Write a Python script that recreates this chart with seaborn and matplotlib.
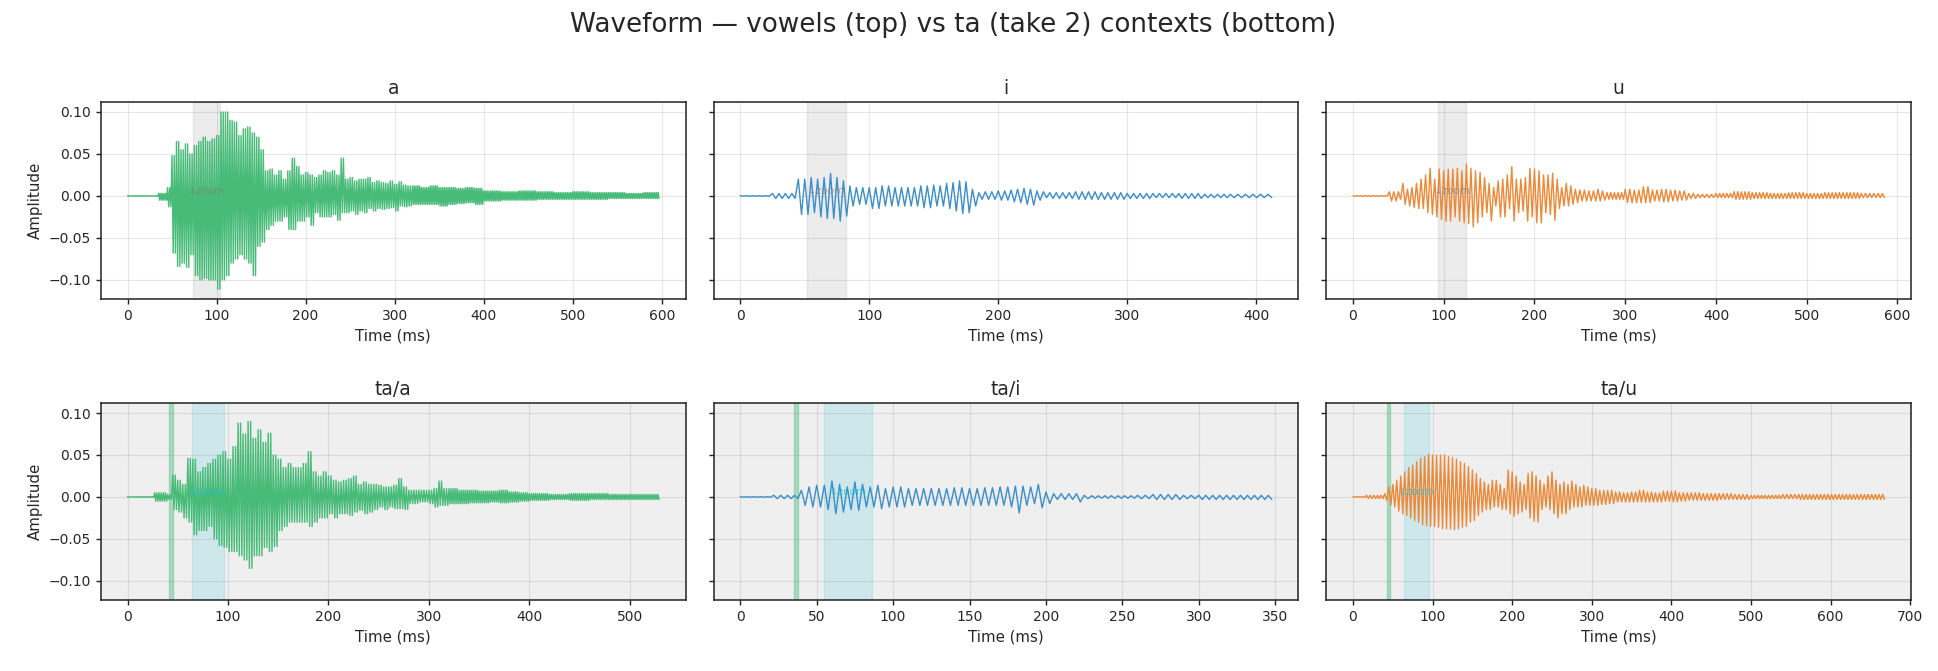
import numpy as np
import pandas as pd
import seaborn as sns
import matplotlib.pyplot as plt
from matplotlib.ticker import MultipleLocator

# envelope: (segment start ms, peak, trough)
ENV_A = [(0, .0003, -.0003), (35, .003, -.005), (45, .010, -.013), (50, .048, -.068), (55, .065, -.084),
         (60, .055, -.080), (65, .062, -.085), (70, .050, -.070), (75, .060, -.095), (80, .065, -.100),
         (85, .070, -.098), (90, .065, -.100), (95, .068, -.100), (100, .072, -.111), (105, .100, -.100),
         (110, .100, -.095), (115, .090, -.080), (120, .088, -.075), (125, .072, -.070), (130, .080, -.075),
         (135, .082, -.080), (140, .075, -.095), (145, .070, -.060), (150, .055, -.055), (155, .030, -.040),
         (160, .032, -.035), (165, .025, -.030), (170, .030, -.030), (175, .020, -.025), (180, .030, -.040),
         (185, .045, -.040), (190, .035, -.030), (195, .025, -.030), (200, .028, -.025), (205, .025, -.035),
         (210, .022, -.020), (215, .025, -.025), (220, .030, -.025), (225, .028, -.025), (230, .030, -.022),
         (235, .025, -.029), (240, .045, -.020), (245, .020, -.020), (250, .022, -.018), (255, .018, -.022),
         (260, .020, -.018), (265, .020, -.020), (270, .022, -.015), (275, .016, -.018), (280, .018, -.015),
         (285, .016, -.016), (290, .015, -.015), (295, .018, -.014), (300, .014, -.018), (305, .017, -.012),
         (310, .013, -.013), (315, .012, -.012), (320, .012, -.010), (330, .010, -.010), (340, .012, -.010),
         (350, .010, -.012), (360, .010, -.010), (370, .009, -.009), (380, .010, -.008), (390, .009, -.010),
         (400, .006, -.006), (420, .005, -.005), (440, .006, -.005), (460, .005, -.004), (480, .004, -.004),
         (500, .005, -.004), (520, .004, -.004), (540, .004, -.003), (560, .003, -.003), (580, .004, -.003)]
ENV_I = [(0, .0003, -.0003), (25, .003, -.003), (45, .020, -.022), (50, .020, -.022), (55, .022, -.020),
         (60, .020, -.025), (65, .022, -.027), (70, .027, -.027), (75, .022, -.030), (80, .018, -.024),
         (85, .012, -.012), (90, .010, -.010), (95, .010, -.010), (100, .010, -.015), (110, .012, -.012),
         (120, .010, -.012), (130, .010, -.012), (140, .012, -.014), (150, .013, -.012), (155, .012, -.012),
         (160, .015, -.015), (165, .016, -.018), (170, .018, -.021), (175, .017, -.020), (180, .008, -.012),
         (185, .004, -.004), (190, .005, -.004), (200, .006, -.005), (210, .007, -.007), (215, .008, -.008),
         (220, .009, -.010), (225, .008, -.011), (230, .006, -.005), (235, .005, -.002), (240, .004, -.003),
         (260, .005, -.004), (280, .004, -.004), (300, .003, -.003), (320, .003, -.002), (340, .003, -.003),
         (360, .002, -.002), (380, .002, -.002)]
ENV_U = [(0, .0003, -.0003), (40, .005, -.006), (50, .005, -.004), (55, .015, -.010), (60, .008, -.012),
         (65, .010, -.014), (70, .015, -.015), (75, .020, -.015), (80, .025, -.020), (85, .033, -.022),
         (90, .020, -.025), (95, .032, -.028), (100, .030, -.030), (105, .032, -.030), (110, .032, -.025),
         (115, .033, -.030), (120, .030, -.032), (125, .038, -.033), (130, .033, -.037), (135, .030, -.032),
         (140, .028, -.025), (145, .022, -.020), (150, .015, -.030), (155, .010, -.012), (160, .018, -.025),
         (165, .020, -.025), (170, .025, -.015), (175, .035, -.030), (180, .020, -.020), (185, .020, -.018),
         (190, .022, -.030), (195, .033, -.025), (200, .032, -.032), (205, .030, -.032), (210, .025, -.020),
         (215, .025, -.022), (220, .027, -.029), (225, .020, -.015), (230, .010, -.012), (235, .015, -.012),
         (240, .012, -.010), (245, .008, -.008), (250, .007, -.006), (260, .006, -.006), (270, .008, -.006),
         (275, .006, -.005), (280, .004, -.004), (300, .008, -.008), (310, .007, -.008), (320, .011, -.008),
         (330, .007, -.006), (340, .008, -.007), (350, .007, -.006), (360, .006, -.005), (370, .003, -.003),
         (380, .002, -.002), (390, .002, -.002), (400, .003, -.002), (420, .005, -.004), (440, .004, -.003),
         (460, .003, -.003), (480, .004, -.003), (500, .003, -.003), (520, .004, -.003), (540, .004, -.003),
         (560, .003, -.002)]
ENV_TA_A = [(0, .0003, -.0003), (27, .005, -.005), (40, .003, -.003), (45, .026, -.015), (50, .020, -.018),
            (55, .015, -.025), (60, .046, -.030), (65, .045, -.045), (70, .030, -.040), (75, .035, -.040),
            (80, .040, -.035), (85, .045, -.050), (90, .050, -.058), (95, .054, -.060), (100, .045, -.065),
            (105, .060, -.065), (110, .088, -.070), (115, .075, -.075), (120, .090, -.085), (125, .070, -.070),
            (130, .080, -.070), (135, .065, -.060), (140, .076, -.065), (145, .050, -.059), (150, .045, -.040),
            (155, .035, -.035), (160, .040, -.030), (165, .035, -.030), (170, .035, -.030), (175, .040, -.030),
            (180, .054, -.035), (185, .030, -.030), (190, .025, -.025), (195, .030, -.025), (200, .025, -.020),
            (205, .020, -.025), (210, .018, -.020), (215, .020, -.020), (220, .022, -.022), (225, .025, -.018),
            (230, .015, -.016), (235, .018, -.020), (240, .015, -.018), (245, .015, -.015), (250, .014, -.012),
            (255, .012, -.015), (260, .012, -.012), (265, .014, -.014), (270, .022, -.014), (275, .012, -.015),
            (280, .008, -.008), (285, .008, -.008), (290, .008, -.006), (295, .008, -.006), (300, .008, -.008),
            (305, .010, -.012), (310, .019, -.010), (315, .010, -.010), (320, .010, -.008), (330, .008, -.008),
            (340, .008, -.007), (350, .007, -.007), (360, .007, -.006), (370, .008, -.007), (380, .006, -.006),
            (390, .005, -.005), (400, .004, -.004), (420, .003, -.003), (440, .004, -.004), (460, .004, -.003),
            (480, .003, -.003), (500, .003, -.003)]
ENV_TA_I = [(0, .0003, -.0003), (22, .002, -.002), (40, .008, -.010), (45, .012, -.012), (50, .014, -.012),
            (55, .014, -.015), (60, .019, -.020), (65, .015, -.018), (70, .012, -.015), (75, .018, -.016),
            (80, .015, -.012), (85, .012, -.012), (90, .014, -.014), (95, .010, -.012), (100, .012, -.012),
            (110, .010, -.010), (120, .010, -.010), (130, .010, -.010), (140, .011, -.010), (150, .010, -.010),
            (160, .011, -.010), (170, .012, -.010), (175, .012, -.012), (180, .013, -.019), (185, .013, -.010),
            (190, .012, -.008), (195, .015, -.013), (200, .006, -.008), (205, .004, -.003), (220, .004, -.006),
            (225, .002, -.002), (230, .0015, -.0015), (260, .002, -.002), (270, .003, -.003), (290, .002, -.002),
            (300, .002, -.003)]
ENV_TA_U = [(0, .0003, -.0003), (17, .002, -.002), (40, .004, -.004), (45, .012, -.010), (50, .015, -.012),
            (55, .020, -.017), (60, .025, -.020), (65, .030, -.022), (70, .035, -.025), (75, .038, -.028),
            (80, .042, -.030), (85, .046, -.033), (90, .048, -.034), (95, .051, -.035), (100, .050, -.035),
            (105, .050, -.036), (110, .050, -.038), (115, .050, -.038), (120, .048, -.038), (125, .047, -.039),
            (130, .045, -.038), (135, .042, -.036), (140, .040, -.035), (145, .036, -.030), (150, .032, -.028),
            (155, .028, -.022), (160, .022, -.018), (165, .018, -.015), (170, .015, -.015), (175, .020, -.012),
            (180, .020, -.012), (185, .015, -.015), (190, .010, -.015), (195, .032, -.020), (200, .030, -.023),
            (205, .025, -.020), (210, .018, -.018), (215, .015, -.015), (220, .028, -.025), (225, .030, -.029),
            (230, .025, -.030), (235, .020, -.015), (240, .015, -.012), (245, .025, -.015), (250, .030, -.020),
            (255, .020, -.025), (260, .015, -.020), (265, .018, -.020), (270, .015, -.015), (275, .019, -.012),
            (280, .015, -.012), (285, .012, -.012), (290, .014, -.010), (295, .012, -.010), (300, .010, -.010),
            (310, .008, -.009), (320, .008, -.008), (330, .006, -.006), (340, .005, -.006), (350, .006, -.006),
            (360, .008, -.006), (370, .006, -.006), (380, .005, -.006), (390, .007, -.005), (400, .007, -.006),
            (410, .005, -.005), (420, .005, -.004), (440, .004, -.004), (460, .004, -.003), (480, .003, -.003),
            (500, .002, -.002), (540, .003, -.002), (560, .003, -.003)]

TITLES = ["a", "i", "u", "ta/a", "ta/i", "ta/u"]
ENVS = [ENV_A, ENV_I, ENV_U, ENV_TA_A, ENV_TA_I, ENV_TA_U]
DURATIONS = [598, 415, 588, 530, 350, 670]        # ms
PERIODS = [2.0, 5.5, 4.4, 2.0, 4.6, 4.6]          # pitch period, ms
COLORS = ["#48bb78", "#3a8ecb", "#ed8936", "#48bb78", "#3a8ecb", "#ed8936"]
XSTEP = [100, 100, 100, 100, 50, 100]
ZOOM_WIN = [(74, 104), (52, 82), (94, 125), (64, 96), (55, 86), (64, 95)]
BURST = [None, None, None, (41, 45), (35, 38), (43, 46)]


def trace(env, dur, period):
    # draw each segment as oscillation between its read peak and trough
    ts, ys = [], []
    ends = [s[0] for s in env[1:]] + [dur]
    for (t0, hi, lo), t1 in zip(env, ends):
        n = max(1, int(round((t1 - t0) / period)))
        k = np.arange(2 * n)
        ts.append(t0 + (t1 - t0) * k / (2 * n))
        ys.append(np.where(k % 2 == 0, hi, lo))
    return np.concatenate(ts), np.concatenate(ys)


rows = []
for name, env, dur, per in zip(TITLES, ENVS, DURATIONS, PERIODS):
    t, y = trace(env, dur, per)
    rows.append(pd.DataFrame({"panel": name, "time": t, "amp": y}))
df = pd.concat(rows, ignore_index=True)

sns.set_style("ticks")
plt.rcParams["font.family"] = ["DejaVu Sans"]

fig, axes = plt.subplots(2, 3, figsize=(19.38, 6.71), dpi=100, sharey=True)
fig.subplots_adjust(left=0.0521, right=0.9861, top=0.848, bottom=0.1058, wspace=0.048, hspace=0.528)

for i, ax in enumerate(axes.flat):
    sub = df[df["panel"] == TITLES[i]]
    bottom_row = i >= 3
    if bottom_row:
        ax.set_facecolor("#efefef")
        ax.axvspan(*BURST[i], color="#48bb78", alpha=0.4)
        ax.axvspan(*ZOOM_WIN[i], color="#17becf", alpha=0.15)
        zc = "#17becf"
    else:
        ax.axvspan(*ZOOM_WIN[i], color="gray", alpha=0.15)
        zc = "gray"
    sns.lineplot(data=sub, x="time", y="amp", estimator=None, sort=False,
                 color=COLORS[i], lw=1.0, alpha=1.0, ax=ax)
    ax.text(sum(ZOOM_WIN[i]) / 2, 0.0, "\u2193zoom", ha="center", va="bottom",
            fontsize=7.5, color=zc, alpha=0.7)
    ax.set_title(TITLES[i], fontsize=13.5)
    ax.set_xlabel("Time (ms)", fontsize=10.8)
    ax.set_ylabel("Amplitude" if i % 3 == 0 else "", fontsize=10.8)
    ax.set_ylim(-0.1227, 0.1119)
    ax.set_yticks([-0.10, -0.05, 0.0, 0.05, 0.10])
    ax.xaxis.set_major_locator(MultipleLocator(XSTEP[i]))
    ax.margins(x=0.05)
    ax.grid(True, color="#888888", alpha=0.2, lw=0.8)
    ax.tick_params(labelsize=10, length=3.5, width=1.0, color="#222222")
    for sp in ax.spines.values():
        sp.set_color("#222222")
        sp.set_linewidth(1.1)

fig.suptitle("Waveform \u2014 vowels (top) vs ta (take 2) contexts (bottom)",
             fontsize=18.9, x=0.492, y=0.982)
fig.savefig("out.png", dpi=100)
